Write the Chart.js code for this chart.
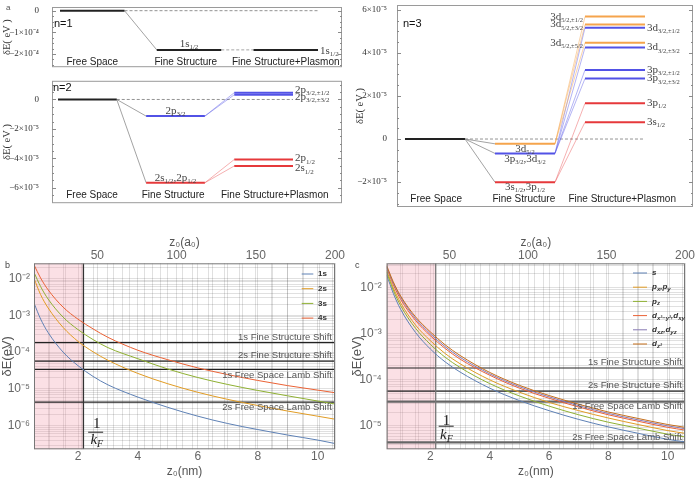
<!DOCTYPE html>
<html><head><meta charset="utf-8">
<script src="https://cdn.jsdelivr.net/npm/chart.js@4.4.1/dist/chart.umd.min.js"></script>
<style>
html,body{margin:0;padding:0;background:#fff;}
body{width:697px;height:484px;position:relative;overflow:hidden;}
canvas{position:absolute;}
</style></head><body>
<canvas id="cA1" width="350" height="74" style="left:0;top:0;"></canvas>
<canvas id="cA2" width="350" height="136" style="left:0;top:74px;"></canvas>
<canvas id="cA3" width="347" height="215" style="left:350px;top:0;"></canvas>
<canvas id="cB" width="350" height="269" style="left:0;top:215px;"></canvas>
<canvas id="cC" width="347" height="269" style="left:350px;top:215px;"></canvas>
<script>
// ================= DATA =================
// Panel a : energy shifts (eV)
const stageNames = ['Free Space', 'Fine Structure', 'Fine Structure+Plasmon'];

const n1Ticks = [-2e-4, -1e-4, 0];
const n1TickLabels = ['−2×10⁻⁴', '−1×10⁻⁴', '0'];
const n1FineE = [-1.81e-4];
const n1FineNames = ['1s_{1/2}'];
const n1PlasE = [-1.81e-4];
const n1PlasParent = [0];
const n1PlasNames = ['1s_{1/2}'];

const n2Ticks = [-6e-5, -4e-5, -2e-5, 0];
const n2TickLabels = ['−6×10⁻⁵', '−4×10⁻⁵', '−2×10⁻⁵', '0'];
const n2FineE = [-1.13e-5, -5.66e-5];
const n2FineNames = ['2p_{3/2}', '2s_{1/2},2p_{1/2}'];
const n2PlasE = [0.46e-5, 0.32e-5, -4.08e-5, -4.52e-5];
const n2PlasParent = [0, 0, 1, 1];
const n2PlasNames = ['2p_{3/2,±1/2}', '2p_{3/2,±3/2}', '2p_{1/2}', '2s_{1/2}'];

const n3Ticks = [-2e-5, 0, 2e-5, 4e-5, 6e-5];
const n3TickLabels = ['−2×10⁻⁵', '0', '2×10⁻⁵', '4×10⁻⁵', '6×10⁻⁵'];
const n3FineE = [-0.223e-5, -0.67e-5, -2.01e-5];
const n3FineNames = ['3d_{5/2}', '3p_{3/2},3d_{3/2}', '3s_{1/2},3p_{1/2}'];
const n3PlasE = [5.69e-5, 5.32e-5, 5.17e-5, 4.48e-5, 4.25e-5, 3.21e-5, 2.81e-5, 1.66e-5, 0.78e-5];
const n3PlasParent = [0, 0, 1, 0, 1, 1, 1, 2, 2];
const n3PlasNames = ['3d_{5/2,±1/2}', '3d_{5/2,±3/2}', '3d_{3/2,±1/2}', '3d_{5/2,±5/2}', '3d_{3/2,±3/2}',
                     '3p_{3/2,±1/2}', '3p_{3/2,±3/2}', '3p_{1/2}', '3s_{1/2}'];

// Panels b, c : shift vs distance
const zNm = [0.529, 0.75, 1, 1.5, 2, 2.5, 3, 4, 5, 6, 7, 8, 9, 10, 10.58];
const b1s = [2.14e-3, 7.9e-4, 3.39e-4, 1.0e-4, 4.27e-5, 2.19e-5, 1.29e-5, 6.0e-6, 3.16e-6, 1.82e-6, 1.15e-6, 7.9e-7, 5.6e-7, 4.1e-7, 3.3e-7];
const b2s = [1.0e-2, 3.63e-3, 1.58e-3, 4.68e-4, 1.95e-4, 1.02e-4, 6.0e-5, 2.63e-5, 1.38e-5, 8.1e-6, 5.2e-6, 3.55e-6, 2.51e-6, 1.82e-6, 1.51e-6];
const b3s = [1.45e-2, 6.0e-3, 2.75e-3, 8.9e-4, 4.07e-4, 2.19e-4, 1.32e-4, 6.6e-5, 3.47e-5, 2.04e-5, 1.32e-5, 9.1e-6, 6.5e-6, 4.7e-6, 3.9e-6];
const b4s = [2.34e-2, 1.02e-2, 4.9e-3, 1.66e-3, 7.8e-4, 4.27e-4, 2.51e-4, 1.12e-4, 6.2e-5, 3.72e-5, 2.45e-5, 1.70e-5, 1.23e-5, 9.3e-6, 7.9e-6];
const bNames = ['1s', '2s', '3s', '4s'];

const cS    = [1.91e-2, 7.6e-3, 3.39e-3, 1.07e-3, 4.68e-4, 2.45e-4, 1.48e-4, 6.6e-5, 3.55e-5, 2.14e-5, 1.38e-5, 9.5e-6, 6.9e-6, 5.1e-6, 4.5e-6];
const cPxPy = [2.40e-2, 1.0e-2, 4.68e-3, 1.55e-3, 7.1e-4, 3.72e-4, 2.24e-4, 1.0e-4, 5.4e-5, 3.24e-5, 2.14e-5, 1.48e-5, 1.07e-5, 7.9e-6, 6.9e-6];
const cPz   = [2.19e-2, 8.9e-3, 4.07e-3, 1.32e-3, 5.9e-4, 3.09e-4, 1.86e-4, 8.3e-5, 4.47e-5, 2.69e-5, 1.74e-5, 1.20e-5, 8.9e-6, 6.6e-6, 5.75e-6];
const cDx2  = [2.75e-2, 1.17e-2, 5.6e-3, 1.95e-3, 9.1e-4, 4.79e-4, 2.82e-4, 1.26e-4, 6.6e-5, 3.98e-5, 2.57e-5, 1.74e-5, 1.26e-5, 9.3e-6, 8.1e-6];
const cDxz  = [2.88e-2, 1.26e-2, 6.2e-3, 2.14e-3, 1.0e-3, 5.25e-4, 3.09e-4, 1.35e-4, 7.1e-5, 4.27e-5, 2.75e-5, 1.86e-5, 1.35e-5, 1.0e-5, 8.7e-6];
const cDz2  = [3.02e-2, 1.35e-2, 6.6e-3, 2.34e-3, 1.10e-3, 5.75e-4, 3.39e-4, 1.45e-4, 7.6e-5, 4.57e-5, 2.95e-5, 2.0e-5, 1.45e-5, 1.07e-5, 9.3e-6];
const cNames = ['s', 'p_{x},p_{y}', 'p_{z}', 'd_{x²−y²},d_{xy}', 'd_{xz},d_{yz}', 'd_{z²}'];

const shiftNames = ['1s Fine Structure Shift', '2s Fine Structure Shift', '1s Free Space Lamb Shift', '2s Free Space Lamb Shift'];
const shiftValues = [1.81e-4, 5.66e-5, 3.38e-5, 4.37e-6];
const invKF = 2.18;                 // nm
const zRangeNm = [0.529, 10.58];    // 10 a0 … 200 a0
const zRangeA0 = [10, 200];
const nmTickLabels = [2, 4, 6, 8, 10];
const a0TickLabels = [50, 100, 150, 200];
const bDecades = [1e-6, 1e-5, 1e-4, 1e-3, 1e-2];
const bDecadeLabels = ['10⁻⁶', '10⁻⁵', '10⁻⁴', '10⁻³', '10⁻²'];
const cDecades = [1e-5, 1e-4, 1e-3, 1e-2];
const cDecadeLabels = ['10⁻⁵', '10⁻⁴', '10⁻³', '10⁻²'];

// ================= STYLE =================
const SANS = '"Liberation Sans", Arial, sans-serif';
const SERIF = '"Liberation Serif", "Times New Roman", serif';
Chart.defaults.font.family = SANS;
Chart.defaults.animation = false;
const BLUE = '#5252e6', RED = '#e6393b', ORANGE = '#f5a44c', BLACK = '#222';
const BLUE_L = 'rgba(82,82,230,0.55)', RED_L = 'rgba(230,57,59,0.5)', ORANGE_L = 'rgba(245,164,76,0.6)';
const STAGE = {freeStart: 0, freeEnd: 1, fineStart: 1.5, fineEnd: 2.5, plasStart: 3, plasEnd: 4};
const MC = ['#5E81B5', '#E19C24', '#8FB032', '#EB6235', '#8778B3', '#C56E1A'];

// ================= HELPERS =================
function parseRich(str) {
  const out = []; const re = /_\{([^}]*)\}|([^_]+)/g; let m;
  while ((m = re.exec(str))) out.push(m[1] !== undefined ? {t: m[1], sub: true} : {t: m[2], sub: false});
  return out;
}
function drawRich(ctx, str, x, y, o) {
  const segs = parseRich(str);
  const f = s => `${o.style || 'normal'} ${o.weight || 'normal'} ${s.sub ? o.sub : o.size}px ${o.family}`;
  let w = 0;
  segs.forEach(s => { ctx.font = f(s); s.w = ctx.measureText(s.t).width; w += s.w; });
  let cx = o.align === 'right' ? x - w : o.align === 'center' ? x - w / 2 : x;
  ctx.textBaseline = 'middle'; ctx.textAlign = 'left'; ctx.fillStyle = o.color;
  segs.forEach(s => { ctx.font = f(s); ctx.fillText(s.t, cx, y + (s.sub ? o.size * 0.3 : 0)); cx += s.w; });
}
function seg(pts, color, width, dash) {
  return {data: pts.map(p => ({x: p[0], y: p[1]})), showLine: true, borderColor: color, borderWidth: width,
          borderDash: dash || [], pointRadius: 0, pointHoverRadius: 0, fill: false};
}

// ---------- Level diagram ----------
const levelDeco = {
  id: 'levelDeco',
  afterDraw(chart, args, o) {
    const {ctx, chartArea: a, scales: {x, y}} = chart;
    ctx.save();
    ctx.strokeStyle = '#9a9a9a'; ctx.lineWidth = 1;
    ctx.strokeRect(a.left + 0.5, a.top + 0.5, a.right - a.left - 1, a.bottom - a.top - 1);
    const t = o.ticks, step = t[1] - t[0], minor = step / 4;
    ctx.strokeStyle = '#8a8a8a';
    for (let v = t[0] - 8 * minor; v <= t[t.length - 1] + 8 * minor + 1e-12; v += minor) {
      const py = Math.round(y.getPixelForValue(v)) + 0.5;
      if (py < a.top + 1 || py > a.bottom - 1) continue;
      const major = t.some(tv => Math.abs(tv - v) < minor / 10);
      const L = major ? 4 : 2;
      ctx.beginPath(); ctx.moveTo(a.left, py); ctx.lineTo(a.left + L, py);
      ctx.moveTo(a.right, py); ctx.lineTo(a.right - L, py); ctx.stroke();
    }
    o.labels.forEach(l => drawRich(ctx, l.text, x.getPixelForValue(l.x) + (l.dx || 0), y.getPixelForValue(l.y) + (l.dy || 0),
      {size: o.labSize, sub: o.labSub, family: SERIF, color: '#444', align: l.align}));
    ctx.font = `10px ${SANS}`; ctx.fillStyle = '#222'; ctx.textAlign = 'center'; ctx.textBaseline = 'middle';
    stageNames.forEach((s, i) => ctx.fillText(s, x.getPixelForValue(o.catX[i]), a.bottom - o.catDy));
    ctx.font = `11px ${SANS}`; ctx.fillStyle = '#111'; ctx.textAlign = 'left';
    ctx.fillText(o.nText, a.left + o.nPos[0], a.top + o.nPos[1]);
    if (o.letter) { ctx.font = `8px ${SANS}`; ctx.fillStyle = '#555'; ctx.fillText(o.letter[0], o.letter[1], o.letter[2]); }
    ctx.restore();
  }
};

function levelChart(id, L) {
  const S = STAGE, ds = [];
  ds.push(seg([[S.freeEnd, 0], [S.plasEnd, 0]], '#777', 0.8, [3, 2]));
  L.fineE.forEach(e => ds.push(seg([[S.freeEnd, 0], [S.fineStart, e]], '#8c8c8c', 0.8)));
  L.plasE.forEach((e, i) => ds.push(seg([[S.fineEnd, L.fineE[L.parent[i]]], [S.plasStart, e]], L.linkColor[i], 0.8, L.linkDash)));
  ds.push(seg([[S.freeStart, 0], [S.freeEnd, 0]], BLACK, 2));
  L.fineE.forEach((e, i) => ds.push(seg([[S.fineStart, e], [S.fineEnd, e]], L.fineColor[i], 2)));
  L.plasE.forEach((e, i) => ds.push(seg([[S.plasStart, e], [S.plasEnd, e]], L.plasColor[i], 2)));
  ds.reverse();
  const labels = [];
  L.fineE.forEach((e, i) => labels.push({x: (S.fineStart + S.fineEnd) / 2, y: e, text: L.fineNames[i], align: 'center', dy: L.fineDy[i]}));
  L.plasE.forEach((e, i) => {
    const left = L.side[i] === 'L';
    labels.push({x: left ? S.plasStart : S.plasEnd, y: e, text: L.plasNames[i], align: left ? 'right' : 'left',
                 dx: left ? -2 : 2, dy: L.plasDy[i]});
  });
  new Chart(document.getElementById(id), {
    type: 'scatter',
    data: {datasets: ds},
    options: {
      responsive: false, animation: false, devicePixelRatio: 1,
      layout: {padding: L.pad},
      plugins: {legend: {display: false}, tooltip: {enabled: false},
        levelDeco: {ticks: L.ticks, labels, catX: L.catX, catDy: L.catDy, nText: L.nText, nPos: L.nPos,
                    labSize: L.labSize, labSub: L.labSub, letter: L.letter}},
      scales: {
        x: {type: 'linear', display: false, min: L.xr[0], max: L.xr[1]},
        y: {type: 'linear', min: L.yr[0], max: L.yr[1],
            afterBuildTicks: s => { s.ticks = L.ticks.map(v => ({value: v})); },
            afterFit: s => { s.width = L.yw; },
            grid: {display: false}, border: {display: false},
            ticks: {callback: (v, i) => L.tickLabels[i], color: '#333', padding: L.tp,
                    font: {family: SERIF, size: 9, lineHeight: 0.4}},
            title: {display: true, text: 'δE( eV )', color: '#333', padding: {top: L.titlePad, bottom: 0},
                    font: {family: SERIF, size: 10.5}}}
      }
    },
    plugins: [levelDeco]
  });
}

levelChart('cA1', {
  fineE: n1FineE, fineNames: n1FineNames, plasE: n1PlasE, parent: n1PlasParent, plasNames: n1PlasNames,
  fineColor: [BLACK], plasColor: [BLACK], linkColor: ['#8c8c8c'], linkDash: [3, 2],
  side: ['R'], fineDy: [-6], plasDy: [1],
  ticks: n1Ticks, tickLabels: n1TickLabels,
  xr: [-0.124, 4.372], yr: [-2.61e-4, 0.17e-4], pad: {left: 0, right: 8, top: 7, bottom: 3}, yw: 52, tp: 5, titlePad: 1,
  catX: [0.5, 1.95, 3.5], catDy: 5, nText: 'n=1', nPos: [2, 17], labSize: 11, labSub: 7, letter: ['a', 6, 8]
});
levelChart('cA2', {
  fineE: n2FineE, fineNames: n2FineNames, plasE: n2PlasE, parent: n2PlasParent, plasNames: n2PlasNames,
  fineColor: [BLUE, RED], plasColor: [BLUE, BLUE, RED, RED], linkColor: [BLUE_L, BLUE_L, RED_L, RED_L],
  side: ['R', 'R', 'R', 'R'], fineDy: [-5, -5], plasDy: [-3, 2.5, -1, 2.5],
  ticks: n2Ticks, tickLabels: n2TickLabels,
  xr: [-0.102, 4.834], yr: [-7.05e-5, 1.27e-5], pad: {left: 0, right: 8, top: 3, bottom: 4}, yw: 52, tp: 5, titlePad: 1,
  catX: [0.58, 1.96, 3.69], catDy: 8, nText: 'n=2', nPos: [1, 7], labSize: 11, labSub: 7
});
levelChart('cA3', {
  fineE: n3FineE, fineNames: n3FineNames, plasE: n3PlasE, parent: n3PlasParent, plasNames: n3PlasNames,
  fineColor: [ORANGE, BLUE, RED],
  plasColor: [ORANGE, ORANGE, BLUE, ORANGE, BLUE, BLUE, BLUE, RED, RED],
  linkColor: [ORANGE_L, ORANGE_L, BLUE_L, ORANGE_L, BLUE_L, BLUE_L, BLUE_L, RED_L, RED_L],
  side: ['L', 'L', 'R', 'L', 'R', 'R', 'R', 'R', 'R'], fineDy: [5, 6, 5], plasDy: [0, 0, 0, 0, 0, 0, 0, 0, 0],
  ticks: n3Ticks, tickLabels: n3TickLabels,
  xr: [-0.133, 4.8], yr: [-3.16e-5, 6.23e-5], pad: {left: 0, right: 4, top: 5, bottom: 8}, yw: 47, tp: 2, titlePad: 4,
  catX: [0.52, 1.98, 3.62], catDy: 8, nText: 'n=3', nPos: [6, 19], labSize: 11, labSub: 6.5
});

// ---------- Curve panels ----------
const curveDeco = {
  id: 'curveDeco',
  beforeDatasetsDraw(chart, args, o) {
    const {ctx, chartArea: a, scales: {x}} = chart;
    ctx.save(); ctx.fillStyle = 'rgba(242,160,175,0.32)';
    ctx.fillRect(a.left, a.top, x.getPixelForValue(invKF) - a.left, a.bottom - a.top);
    ctx.restore();
  },
  afterDraw(chart, args, o) {
    const {ctx, chartArea: a, scales: {x, y}} = chart;
    ctx.save();
    ctx.strokeStyle = '#777'; ctx.lineWidth = 1;
    ctx.strokeRect(a.left + 0.5, a.top + 0.5, a.right - a.left - 1, a.bottom - a.top - 1);
    ctx.font = `9.5px ${SANS}`; ctx.fillStyle = '#555'; ctx.textAlign = 'right'; ctx.textBaseline = 'middle';
    shiftNames.forEach((s, i) => ctx.fillText(s, a.right - 3, y.getPixelForValue(shiftValues[i]) + o.shiftDy[i]));
    o.names.forEach((n, i) => {
      const yy = a.top + o.leg.y0 + i * o.leg.dy;
      ctx.strokeStyle = o.colors[i]; ctx.lineWidth = 1;
      ctx.beginPath(); ctx.moveTo(a.right + o.leg.x0, yy); ctx.lineTo(a.right + o.leg.x1, yy); ctx.stroke();
      drawRich(ctx, n, a.right + o.leg.xt, yy, {size: 8, sub: 6, family: SANS, weight: 'bold', style: o.leg.style, color: '#333', align: 'left'});
    });
    const kx = x.getPixelForValue(invKF);
    ctx.fillStyle = '#222'; ctx.textAlign = 'center';
    ctx.font = `15px ${SERIF}`; ctx.fillText('1', kx + o.kf.cx, a.bottom + o.kf.y1);
    ctx.strokeStyle = '#222'; ctx.lineWidth = 1;
    ctx.beginPath(); ctx.moveTo(kx + o.kf.bx0, a.bottom + o.kf.yb + 0.5); ctx.lineTo(kx + o.kf.bx1, a.bottom + o.kf.yb + 0.5); ctx.stroke();
    drawRich(ctx, 'k_{F}', kx + o.kf.cx, a.bottom + o.kf.y2, {size: 15, sub: 10, family: SERIF, style: 'italic', color: '#222', align: 'center'});
    ctx.font = `9px ${SANS}`; ctx.fillStyle = '#444'; ctx.textAlign = 'left';
    ctx.fillText(o.letter, 5, 51);
    ctx.restore();
  }
};

function logGrid(min, max) {
  const out = [];
  for (let e = Math.floor(Math.log10(min)); e <= Math.ceil(Math.log10(max)); e++)
    for (let k = 1; k < 10; k++) { const v = k * Math.pow(10, e); if (v >= min && v <= max) out.push(v); }
  return out;
}
function curveChart(id, C) {
  const ds = [];
  shiftValues.forEach((v, i) => ds.push(seg([[zRangeNm[0], v], [zRangeNm[1], v]], C.shiftColor[i], C.shiftW[i])));
  ds.push(seg([[invKF, C.yr[0]], [invKF, C.yr[1]]], C.kfColor, 1.3));
  C.series.forEach((vals, i) => ds.push({data: zNm.map((z, j) => ({x: z, y: vals[j]})), showLine: true,
    borderColor: MC[i], borderWidth: 1, pointRadius: 0, pointHoverRadius: 0, fill: false, cubicInterpolationMode: 'monotone'}));
  ds.reverse();
  const gridCol = 'rgba(0,0,0,0.12)';
  const nmGrid = []; for (let i = 2; i <= 21; i++) nmGrid.push(i * 0.5);
  const a0Grid = []; for (let i = 1; i <= 20; i++) a0Grid.push(i * 10);
  const yGrid = logGrid(C.yr[0], C.yr[1]);
  new Chart(document.getElementById(id), {
    type: 'scatter',
    data: {datasets: ds},
    options: {
      responsive: false, animation: false, devicePixelRatio: 1,
      layout: {padding: {left: 0, right: C.padR, top: 16.8, bottom: 1.1}},
      plugins: {legend: {display: false}, tooltip: {enabled: false},
        curveDeco: {names: C.names, colors: MC, leg: C.leg, shiftDy: C.shiftDy, kf: C.kf, letter: C.letter}},
      scales: {
        x: {type: 'linear', position: 'bottom', min: zRangeNm[0], max: zRangeNm[1],
            afterBuildTicks: s => { s.ticks = nmGrid.map(v => ({value: v})); },
            afterFit: s => { s.height = 33.6; },
            grid: {color: gridCol, drawTicks: false}, border: {display: false},
            ticks: {autoSkip: false, maxRotation: 0, padding: 0, color: '#666', font: {size: 12},
                    callback: v => nmTickLabels.includes(v) ? String(v) : ''},
            title: {display: true, text: 'z₀(nm)', color: '#555', font: {size: 12}, padding: {top: 0, bottom: 4}}},
        x2: {type: 'linear', position: 'top', min: zRangeA0[0], max: zRangeA0[1],
            afterBuildTicks: s => { s.ticks = a0Grid.map(v => ({value: v})); },
            afterFit: s => { s.height = 31.5; },
            grid: {color: gridCol, drawTicks: false}, border: {display: false},
            ticks: {autoSkip: false, maxRotation: 0, padding: 0, color: '#666', font: {size: 12},
                    callback: v => a0TickLabels.includes(v) ? String(v) : ''},
            title: {display: true, text: 'z₀(a₀)', color: '#555', font: {size: 12}, padding: {top: 4, bottom: 0}}},
        y: {type: 'logarithmic', min: C.yr[0], max: C.yr[1],
            afterBuildTicks: s => { s.ticks = yGrid.map(v => ({value: v})); },
            afterFit: s => { s.width = C.yw; },
            grid: {color: gridCol, drawTicks: false}, border: {display: false},
            ticks: {autoSkip: false, padding: C.ytp, color: '#666', font: {size: 12, lineHeight: 0.5},
                    callback: v => { const i = C.decades.findIndex(d => Math.abs(v / d - 1) < 1e-6); return i >= 0 ? C.decadeLabels[i] : ''; }},
            title: {display: true, text: 'δE(eV)', color: '#555', font: {size: 13}, padding: {top: 0, bottom: 0}}}
      }
    },
    plugins: [curveDeco]
  });
}

curveChart('cB', {
  series: [b1s, b2s, b3s, b4s], names: bNames, yr: [2.3e-7, 2.57e-2], decades: bDecades, decadeLabels: bDecadeLabels,
  shiftColor: ['#222', '#222', '#222', '#222'], shiftW: [1.2, 1.2, 1.2, 1.2], kfColor: '#333',
  shiftDy: [-5.5, -5.5, 6, 5.5], padR: 15, yw: 34, ytp: 4,
  leg: {y0: 10.7, dy: 14.7, x0: -33.3, x1: -21.7, xt: -17, style: 'normal'},
  kf: {cx: 13.4, y1: -25, yb: -17.6, bx0: 4.7, bx1: 19.7, y2: -9.3}, letter: 'b'
});
curveChart('cC', {
  series: [cS, cPxPy, cPz, cDx2, cDxz, cDz2], names: cNames, yr: [3.1e-6, 3.4e-2], decades: cDecades, decadeLabels: cDecadeLabels,
  shiftColor: ['#222', '#222', '#666', '#666'], shiftW: [1.2, 1.2, 2.2, 2.2], kfColor: '#777',
  shiftDy: [-6, -6, 4.5, -5], padR: 12, yw: 36.7, ytp: 5,
  leg: {y0: 9.7, dy: 14.2, x0: -52, x1: -38, xt: -33, style: 'italic'},
  kf: {cx: 10.7, y1: -28.6, yb: -23.6, bx0: 3, bx1: 18, y2: -14.3}, letter: 'c'
});
</script>
</body></html>
